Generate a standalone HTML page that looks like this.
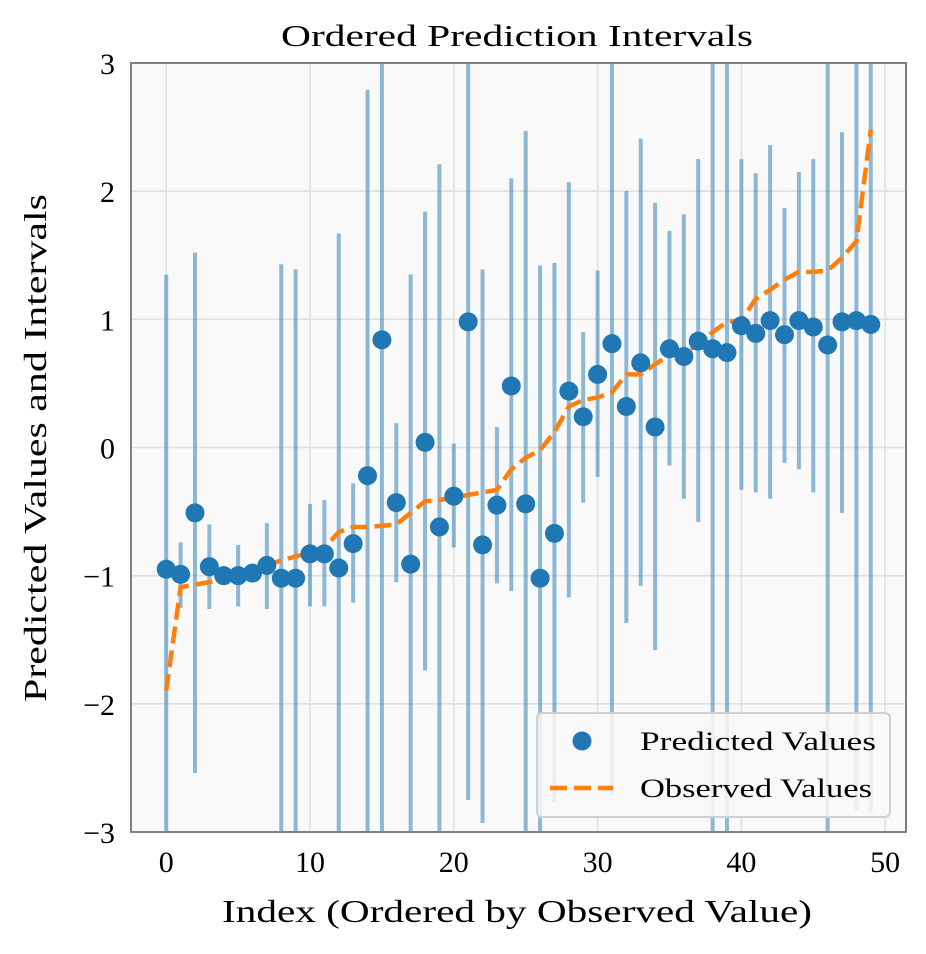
<!DOCTYPE html>
<html><head><meta charset="utf-8">
<style>
html,body{margin:0;padding:0;background:#fff;}
svg{display:block;font-family:"Liberation Serif","DejaVu Serif",serif;}
</style></head>
<body>
<svg id="chart" width="926" height="954" viewBox="0 0 926 954" xmlns="http://www.w3.org/2000/svg">
<rect x="0" y="0" width="926" height="954" fill="#fff"/>
<rect x="131" y="63" width="775" height="769" fill="#f9f9f9"/>
<g id="grid"></g>
<g id="bars"></g>
<g id="obs"></g>
<g id="pts"></g>
<rect x="131" y="63" width="775" height="769" fill="none" stroke="#808080" stroke-width="2"/>
<g id="ticks"></g>
<text x="281" y="46" font-size="31" textLength="472" lengthAdjust="spacingAndGlyphs">Ordered Prediction Intervals</text>
<text x="222" y="922" font-size="32" textLength="590" lengthAdjust="spacingAndGlyphs">Index (Ordered by Observed Value)</text>
<text transform="translate(46,702) rotate(-90)" font-size="32" textLength="508" lengthAdjust="spacingAndGlyphs">Predicted Values and Intervals</text>
<g>
<rect x="537" y="713" width="353" height="104" rx="5" fill="#f9f9f9" fill-opacity="0.85" stroke="#d0d0d0" stroke-width="2"/>
<g>
<circle cx="582" cy="741" r="9.5" fill="#1f77b4"/>
<text x="640" y="750" font-size="26" textLength="236" lengthAdjust="spacingAndGlyphs">Predicted Values</text>
</g>
<g>
<line x1="550" y1="788" x2="613" y2="788" stroke="#ff7f0e" stroke-width="4.5" stroke-dasharray="17,7"/>
<text x="640" y="797" font-size="26" textLength="232" lengthAdjust="spacingAndGlyphs">Observed Values</text>
</g>
</g>
</svg>
<script>
const predicted = [-0.95,-0.99,-0.51,-0.93,-1.0,-1.0,-0.98,-0.92,-1.02,-1.02,-0.83,-0.83,-0.94,-0.75,-0.22,0.84,-0.43,-0.91,0.04,-0.62,-0.38,0.98,-0.76,-0.45,0.48,-0.44,-1.02,-0.67,0.44,0.24,0.57,0.81,0.32,0.66,0.16,0.77,0.71,0.83,0.77,0.74,0.95,0.89,0.99,0.88,0.99,0.94,0.80,0.98,0.99,0.96];
const lower = [-3.5,-1.25,-2.54,-1.26,-1.05,-1.24,-1.03,-1.26,-3.5,-3.5,-1.24,-1.24,-3.5,-1.21,-3.5,-3.5,-1.05,-3.5,-1.74,-3.5,-0.78,-2.75,-2.93,-1.06,-1.12,-3.5,-3.5,-2.77,-1.17,-0.43,-0.23,-2.7,-1.37,-1.08,-1.58,-0.14,-0.40,-0.58,-3.5,-3.5,-0.33,-0.35,-0.40,-0.12,-0.17,-0.35,-3.5,-0.51,-2.83,-2.85];
const upper = [1.35,-0.74,1.52,-0.60,-0.95,-0.76,-0.93,-0.59,1.43,1.39,-0.44,-0.41,1.67,-0.28,2.79,3.5,0.19,1.35,1.84,2.21,0.03,3.5,1.39,0.16,2.10,2.47,1.42,1.44,2.07,0.90,1.38,3.5,2.00,2.41,1.91,1.69,1.82,2.25,3.5,3.5,2.25,2.14,2.36,1.87,2.15,2.25,3.5,2.46,3.5,3.5];
const observed = [-1.90,-1.09,-1.07,-1.05,-1.03,-0.99,-0.96,-0.92,-0.88,-0.85,-0.82,-0.78,-0.66,-0.62,-0.62,-0.61,-0.60,-0.51,-0.42,-0.41,-0.39,-0.37,-0.35,-0.33,-0.17,-0.08,-0.02,0.12,0.32,0.37,0.39,0.43,0.57,0.57,0.65,0.72,0.74,0.80,0.90,0.98,0.99,1.16,1.23,1.31,1.37,1.37,1.38,1.48,1.61,2.48];
const xTicks = [0,10,20,30,40,50];
const yTicks = [-3,-2,-1,0,1,2,3];
const yTickLabels = ["\u22123","\u22122","\u22121","0","1","2","3"];

const NS="http://www.w3.org/2000/svg";
const X0=131,X1=906,Y0=63,Y1=832,XMIN=-2.45,XMAX=51.45,YMIN=-3,YMAX=3;
function xs(v){return X0+(v-XMIN)/(XMAX-XMIN)*(X1-X0);}
function ys(v){return Y1-(v-YMIN)/(YMAX-YMIN)*(Y1-Y0);}
function clampY(v){return Math.max(Y0,Math.min(Y1,ys(v)));}
function mk(tag,attrs,parent){const e=document.createElementNS(NS,tag);for(const k in attrs)e.setAttribute(k,attrs[k]);parent.appendChild(e);return e;}
const grid=document.getElementById('grid'),bars=document.getElementById('bars'),obs=document.getElementById('obs'),pts=document.getElementById('pts'),ticks=document.getElementById('ticks');

xTicks.forEach(t=>{
  const g=mk('line',{x1:xs(t),x2:xs(t),y1:Y0,y2:Y1,stroke:'#e0e0e0','stroke-width':1.6},grid);
  
  
  const tx=mk('text',{x:xs(t),y:Y1+40,'font-size':30,'text-anchor':'middle'},ticks);
  tx.textContent=String(t);
  
  
});
yTicks.forEach((t,i)=>{
  const g=mk('line',{x1:X0,x2:X1,y1:ys(t),y2:ys(t),stroke:'#e0e0e0','stroke-width':1.6},grid);
  
  
  const tx=mk('text',{x:X0-16,y:ys(t)+11,'font-size':30,'text-anchor':'end'},ticks);
  tx.textContent=yTickLabels[i];
  
  
});
predicted.forEach((p,i)=>{
  const b=mk('line',{x1:xs(i),x2:xs(i),y1:clampY(lower[i]),y2:clampY(upper[i]),stroke:'#1f77b4','stroke-opacity':0.5,'stroke-width':4},bars);
  
  
});
const d=observed.map((v,i)=>(i?'L':'M')+xs(i).toFixed(1)+' '+ys(v).toFixed(1)).join(' ');
const pl=mk('path',{d:d,fill:'none',stroke:'#ff7f0e','stroke-width':4.5,'stroke-dasharray':'17,7'},obs);


predicted.forEach((p,i)=>{
  const c=mk('circle',{cx:xs(i),cy:ys(p),r:9.5,fill:'#1f77b4'},pts);
  
  
});
</script>
</body></html>
